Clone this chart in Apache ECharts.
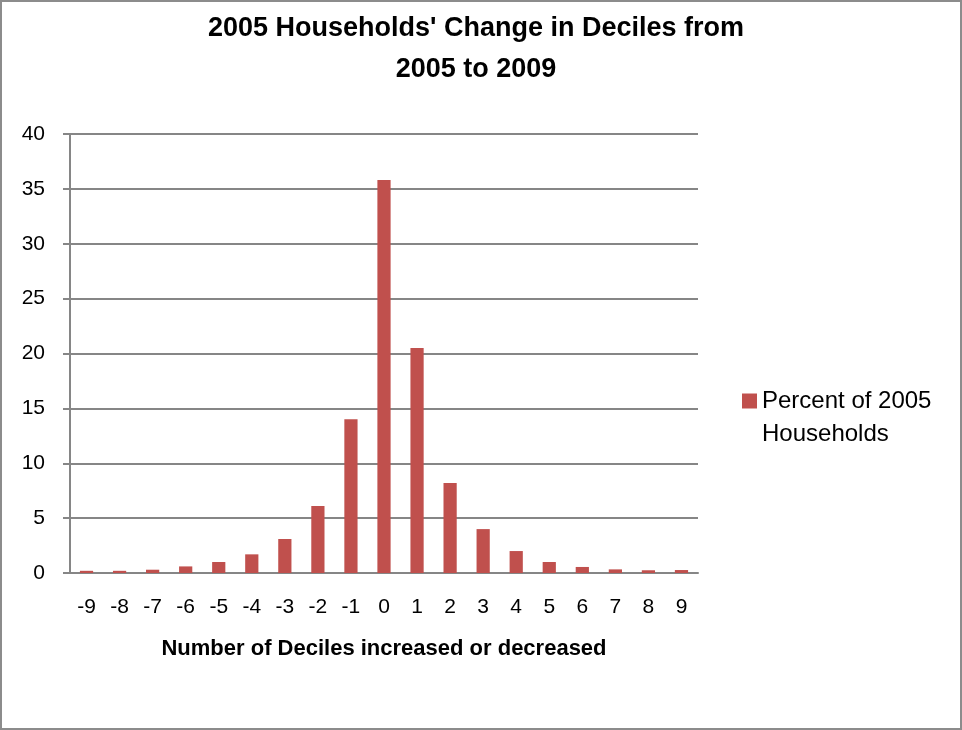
<!DOCTYPE html>
<html>
<head>
<meta charset="utf-8">
<script src="https://cdn.jsdelivr.net/npm/echarts@6/dist/echarts.min.js"></script>
<style>
  html, body { margin: 0; padding: 0; background: #fff; }
  #chart { width: 962px; height: 730px; box-sizing: border-box; border: 2px solid #8c8c8c; }
</style>
</head>
<body>
<div id="chart"></div>
<script>
const deciles = ["-9", "-8", "-7", "-6", "-5", "-4", "-3", "-2", "-1", "0", "1", "2", "3", "4", "5", "6", "7", "8", "9"];
const percents = [0.2, 0.2, 0.3, 0.6, 1.0, 1.7, 3.1, 6.1, 14.0, 35.8, 20.5, 8.2, 4.0, 2.0, 1.0, 0.55, 0.33, 0.25, 0.27];
const seriesName = "Percent of 2005 Households";

const chart = echarts.init(document.getElementById("chart"));

const font = "'Liberation Sans', sans-serif";

chart.setOption({
  animation: false,
  title: {
    text: "2005 Households' Change in Deciles from\n2005 to 2009",
    left: 469,
    textAlign: "center",
    top: 1,
    textStyle: {
      fontFamily: font,
      fontSize: 27,
      fontWeight: "bold",
      color: "#000",
      lineHeight: 41
    }
  },
  legend: {
    left: 735,
    top: 382,
    orient: "vertical",
    itemWidth: 15,
    itemHeight: 15,
    icon: "rect",
    formatter: () => "Percent of 2005",
    textStyle: {
      fontFamily: font,
      fontSize: 24,
      color: "#000"
    }
  },
  graphic: [
    {
      type: "text",
      left: 760,
      top: 420,
      style: {
        text: "Households",
        font: "24px 'Liberation Sans', sans-serif",
        fill: "#000"
      }
    }
  ],
  grid: {
    left: 68,
    right: 262,
    top: 132,
    bottom: 155,
    containLabel: false
  },
  xAxis: {
    type: "category",
    data: deciles,
    name: "Number of Deciles increased or decreased",
    nameLocation: "middle",
    nameGap: 65,
    nameTextStyle: {
      fontFamily: font,
      fontSize: 22,
      fontWeight: "bold",
      color: "#000"
    },
    axisLine: { lineStyle: { color: "#868686", width: 2 } },
    axisTick: { show: false },
    axisLabel: {
      fontFamily: font,
      fontSize: 21,
      color: "#000",
      margin: 24,
      interval: 0
    }
  },
  yAxis: {
    type: "value",
    min: 0,
    max: 40,
    interval: 5,
    axisLine: { show: true, lineStyle: { color: "#868686", width: 2 } },
    axisTick: { show: true, length: 7, lineStyle: { color: "#868686", width: 2 } },
    axisLabel: {
      fontFamily: font,
      fontSize: 21,
      color: "#000",
      margin: 25
    },
    splitLine: { lineStyle: { color: "#868686", width: 2 } }
  },
  series: [
    {
      name: seriesName,
      type: "bar",
      data: percents,
      barWidth: "40%",
      itemStyle: { color: "#C0504D" }
    }
  ]
});
</script>
</body>
</html>
